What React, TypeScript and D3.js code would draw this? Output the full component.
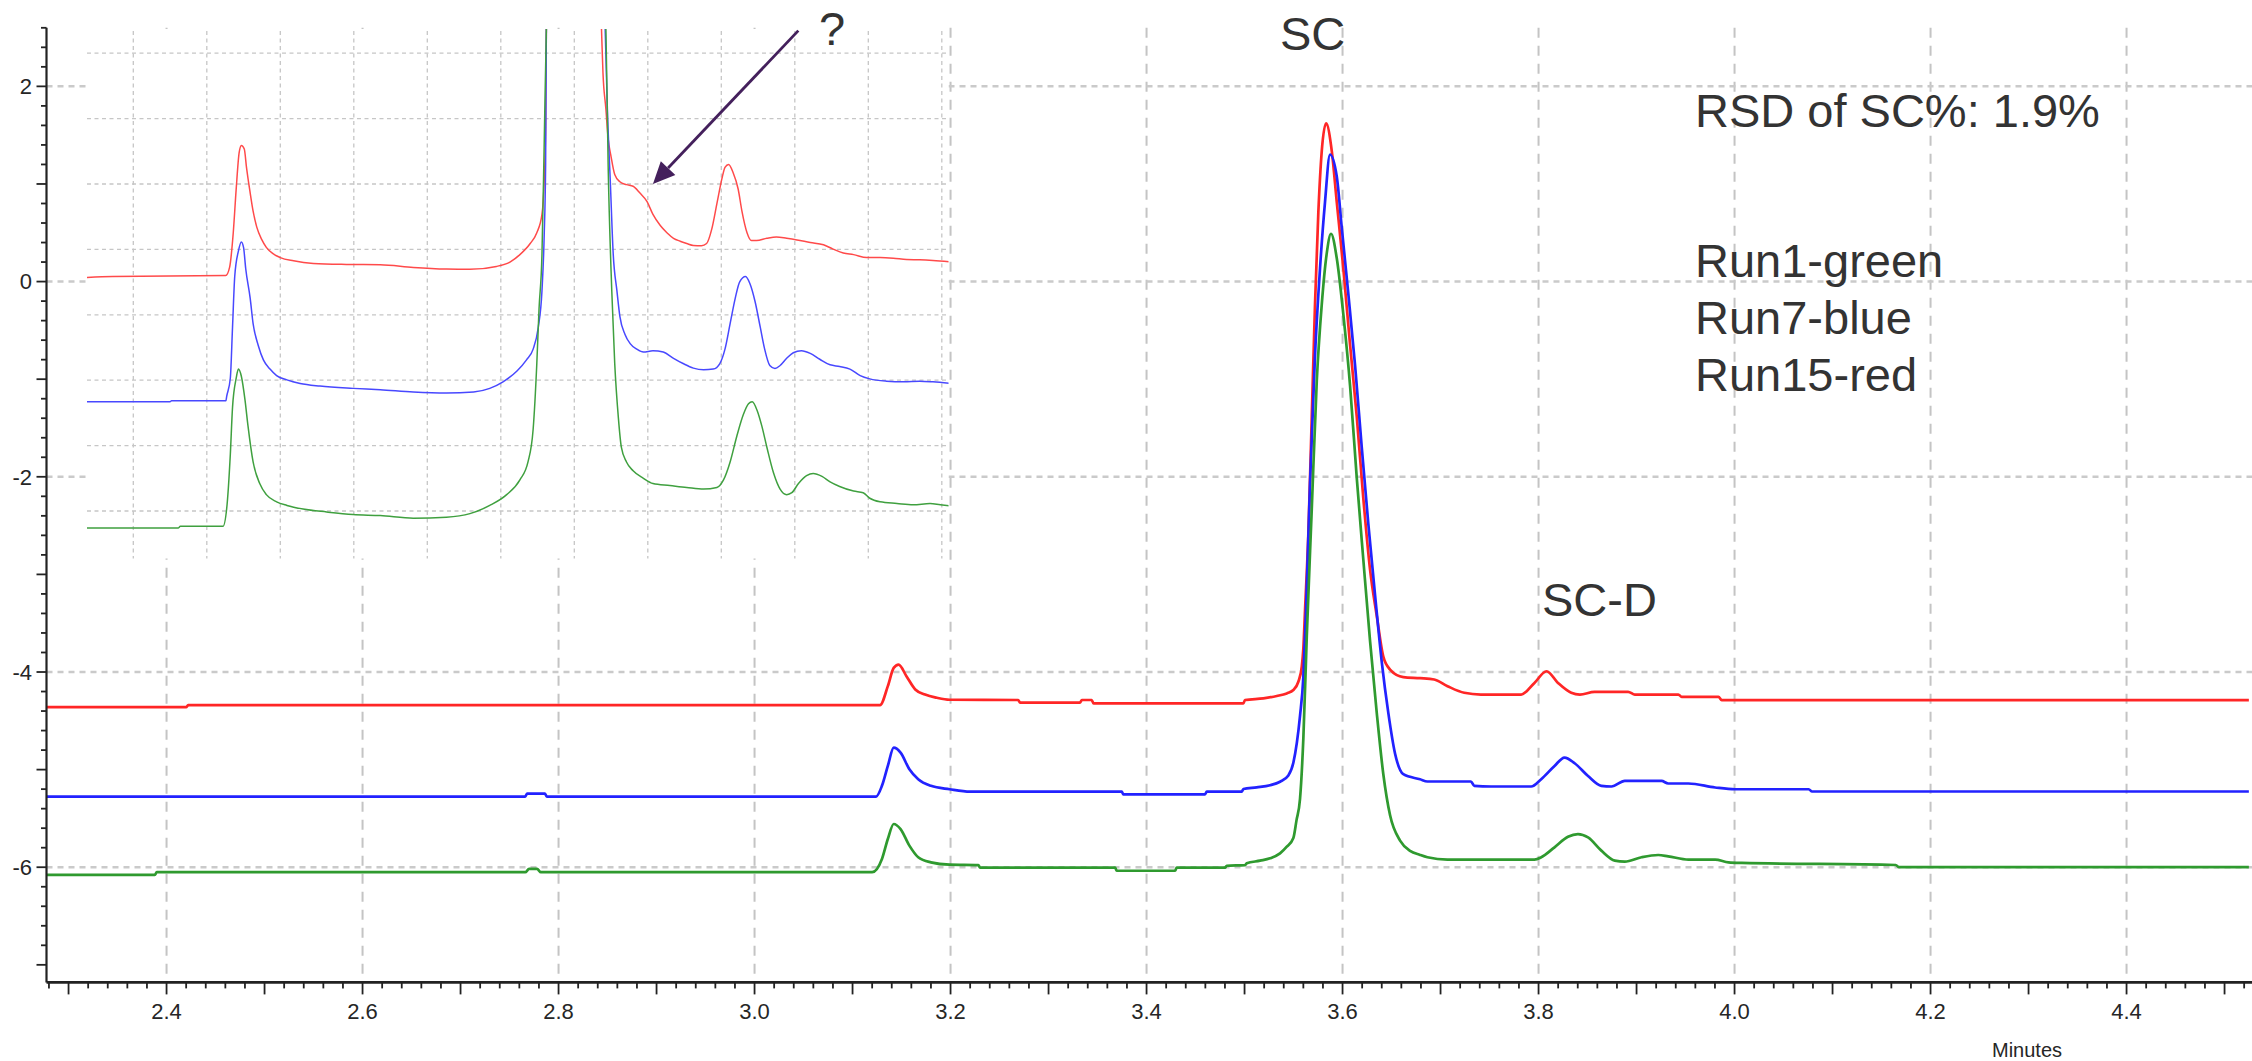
import React from "react";
import * as d3 from "d3";

// ---------- DATA (time in minutes, signal in mAU) ----------
const xTickLabels = [2.4, 2.6, 2.8, 3.0, 3.2, 3.4, 3.6, 3.8, 4.0, 4.2, 4.4];
const yTickLabels = [-6, -4, -2, 0, 2];
const insetGridX = [3.0, 3.1, 3.2, 3.3, 3.4, 3.5, 3.6, 3.7, 3.8, 3.9, 4.0, 4.1];
const insetGridY = [0, 0.2, 0.4, 0.6, 0.8, 1.0, 1.2, 1.4];

const run15Red: [number, number][] = [
  [2.2775,-4.36],[2.420,-4.36],[2.422,-4.34],[3.128,-4.34],[3.136,-4.145],[3.142,-3.958],[3.147,-3.924],[3.155,-4.043],[3.164,-4.179],[3.174,-4.231],[3.186,-4.264],[3.199,-4.284],[3.269,-4.287],[3.271,-4.314],[3.332,-4.314],[3.334,-4.287],[3.344,-4.287],[3.346,-4.321],[3.4988,-4.321],[3.5005,-4.287],[3.5192,-4.270],[3.5329,-4.246],[3.5431,-4.219],[3.5498,-4.184],[3.5549,-4.10],[3.5584,-3.946],[3.5600,-3.76],[3.5617,-3.372],[3.5651,-2.586],[3.5686,-1.383],[3.5719,-0.233],[3.5753,0.709],[3.5788,1.338],[3.5832,1.62],[3.5890,1.338],[3.5941,0.815],[3.6008,0.134],[3.6077,-0.652],[3.6145,-1.383],[3.6212,-2.221],[3.6281,-2.954],[3.6349,-3.424],[3.6416,-3.843],[3.6485,-3.975],[3.6620,-4.052],[3.6791,-4.063],[3.6935,-4.077],[3.7071,-4.145],[3.7242,-4.213],[3.7412,-4.231],[3.7822,-4.231],[3.7958,-4.112],[3.8082,-3.992],[3.8198,-4.112],[3.8334,-4.213],[3.8422,-4.231],[3.8572,-4.203],[3.8914,-4.203],[3.8983,-4.231],[3.9427,-4.231],[3.9460,-4.254],[3.9836,-4.254],[3.9869,-4.288],[4.5248,-4.288]
];
const run7Blue: [number, number][] = [
  [2.2775,-5.276],[2.766,-5.276],[2.768,-5.245],[2.786,-5.245],[2.788,-5.276],[3.124,-5.276],[3.130,-5.166],[3.136,-4.962],[3.142,-4.775],[3.149,-4.826],[3.158,-4.996],[3.167,-5.098],[3.180,-5.166],[3.199,-5.201],[3.2199,-5.226],[3.3747,-5.226],[3.3763,-5.253],[3.4597,-5.253],[3.4614,-5.226],[3.4971,-5.226],[3.4988,-5.199],[3.5124,-5.182],[3.5260,-5.160],[3.5362,-5.124],[3.5447,-5.06],[3.5498,-4.93],[3.5566,-4.45],[3.5600,-4.052],[3.5627,-3.372],[3.5668,-2.064],[3.5719,-0.756],[3.5770,0.134],[3.5821,0.815],[3.5872,1.30],[3.5941,1.076],[3.5992,0.552],[3.6059,-0.127],[3.6128,-0.861],[3.6196,-1.698],[3.6263,-2.483],[3.6332,-3.215],[3.6400,-3.896],[3.6467,-4.419],[3.6536,-4.837],[3.6620,-5.047],[3.6791,-5.099],[3.6866,-5.122],[3.7310,-5.122],[3.7344,-5.166],[3.7515,-5.173],[3.7924,-5.173],[3.8027,-5.098],[3.8163,-4.962],[3.8265,-4.877],[3.8368,-4.935],[3.8505,-5.065],[3.8641,-5.166],[3.8744,-5.173],[3.8880,-5.116],[3.9255,-5.116],[3.9323,-5.142],[3.9529,-5.142],[3.9802,-5.183],[4.0006,-5.201],[4.0757,-5.201],[4.0791,-5.224],[4.5248,-5.224]
];
const run1Green: [number, number][] = [
  [2.2775,-6.079],[2.388,-6.079],[2.390,-6.051],[2.766,-6.051],[2.770,-6.017],[2.778,-6.017],[2.782,-6.051],[3.120,-6.051],[3.130,-5.915],[3.136,-5.711],[3.142,-5.557],[3.149,-5.609],[3.158,-5.779],[3.167,-5.898],[3.180,-5.950],[3.199,-5.974],[3.2284,-5.978],[3.2301,-6.005],[3.3679,-6.005],[3.3696,-6.036],[3.4291,-6.036],[3.4308,-6.005],[3.4801,-6.005],[3.4818,-5.985],[3.5005,-5.978],[3.5022,-5.960],[3.5158,-5.933],[3.5260,-5.909],[3.5362,-5.858],[3.5431,-5.790],[3.5498,-5.70],[3.5530,-5.52],[3.5566,-5.30],[3.5600,-4.68],[3.5635,-3.634],[3.5686,-2.326],[3.5737,-1.017],[3.5788,-0.233],[3.5839,0.291],[3.5882,0.49],[3.5941,0.239],[3.6008,-0.337],[3.6077,-1.070],[3.6145,-2.011],[3.6212,-2.848],[3.6281,-3.686],[3.6349,-4.419],[3.6416,-5.047],[3.6485,-5.468],[3.6587,-5.727],[3.6689,-5.832],[3.6791,-5.874],[3.6866,-5.898],[3.7071,-5.922],[3.7958,-5.922],[3.8027,-5.898],[3.8163,-5.796],[3.8300,-5.688],[3.8402,-5.660],[3.8505,-5.694],[3.8641,-5.830],[3.8778,-5.932],[3.8880,-5.943],[3.9051,-5.898],[3.9221,-5.875],[3.9323,-5.888],[3.9529,-5.922],[3.9802,-5.922],[3.9938,-5.950],[4.0074,-5.956],[4.1645,-5.977],[4.1679,-6.000],[4.5248,-6.000]
];

// inset (magnified view)
const insetRed: [number, number][] = [
  [2.937,0.714],[2.972,0.717],[3.1257,0.720],[3.131,0.745],[3.136,0.851],[3.140,0.985],[3.144,1.096],[3.147,1.118],[3.151,1.107],[3.154,1.051],[3.159,0.973],[3.163,0.917],[3.168,0.868],[3.175,0.829],[3.181,0.806],[3.190,0.787],[3.200,0.775],[3.218,0.765],[3.245,0.757],[3.290,0.754],[3.336,0.753],[3.381,0.745],[3.426,0.740],[3.458,0.739],[3.494,0.748],[3.513,0.762],[3.526,0.784],[3.540,0.818],[3.549,0.851],[3.556,0.907],[3.559,1.007],[3.561,1.173],[3.562,1.474],[3.600,3.0],[3.637,1.474],[3.639,1.340],[3.643,1.229],[3.646,1.140],[3.650,1.084],[3.655,1.029],[3.662,1.007],[3.671,0.998],[3.680,0.993],[3.689,0.973],[3.699,0.946],[3.707,0.907],[3.717,0.873],[3.726,0.851],[3.735,0.834],[3.744,0.825],[3.753,0.818],[3.762,0.812],[3.773,0.811],[3.780,0.818],[3.787,0.862],[3.794,0.940],[3.801,1.018],[3.805,1.051],[3.810,1.060],[3.816,1.035],[3.823,0.984],[3.828,0.918],[3.835,0.851],[3.841,0.827],[3.848,0.827],[3.862,0.834],[3.875,0.838],[3.889,0.834],[3.903,0.829],[3.921,0.821],[3.939,0.814],[3.952,0.801],[3.966,0.789],[3.980,0.784],[3.998,0.775],[4.016,0.775],[4.034,0.773],[4.052,0.769],[4.070,0.768],[4.088,0.766],[4.113,0.762]
];
const insetBlue: [number, number][] = [
  [2.937,0.334],[3.050,0.334],[3.052,0.337],[3.126,0.337],[3.127,0.350],[3.132,0.406],[3.135,0.562],[3.138,0.717],[3.143,0.795],[3.147,0.823],[3.150,0.806],[3.153,0.740],[3.159,0.651],[3.163,0.573],[3.170,0.506],[3.177,0.462],[3.186,0.434],[3.195,0.414],[3.209,0.401],[3.227,0.390],[3.254,0.382],[3.299,0.375],[3.336,0.371],[3.381,0.364],[3.426,0.361],[3.463,0.364],[3.485,0.375],[3.503,0.395],[3.522,0.428],[3.535,0.462],[3.544,0.495],[3.551,0.562],[3.556,0.673],[3.559,0.840],[3.561,1.062],[3.562,1.474],[3.600,3.0],[3.642,1.474],[3.645,1.229],[3.649,1.007],[3.653,0.784],[3.658,0.673],[3.662,0.595],[3.669,0.540],[3.676,0.512],[3.685,0.495],[3.694,0.486],[3.707,0.490],[3.721,0.486],[3.735,0.467],[3.748,0.451],[3.762,0.437],[3.776,0.432],[3.789,0.434],[3.798,0.451],[3.805,0.495],[3.812,0.573],[3.819,0.651],[3.825,0.701],[3.833,0.717],[3.839,0.695],[3.846,0.640],[3.853,0.562],[3.859,0.495],[3.866,0.445],[3.873,0.436],[3.880,0.445],[3.889,0.467],[3.898,0.484],[3.909,0.490],[3.921,0.482],[3.934,0.464],[3.948,0.447],[3.961,0.442],[3.975,0.434],[3.989,0.414],[4.002,0.404],[4.025,0.397],[4.048,0.395],[4.070,0.397],[4.088,0.395],[4.113,0.390]
];
const insetGreen: [number, number][] = [
  [2.937,-0.052],[3.061,-0.052],[3.064,-0.047],[3.122,-0.047],[3.127,0.006],[3.132,0.173],[3.135,0.317],[3.140,0.406],[3.143,0.434],[3.147,0.412],[3.152,0.339],[3.156,0.261],[3.163,0.150],[3.172,0.084],[3.181,0.050],[3.195,0.028],[3.209,0.017],[3.231,0.006],[3.263,-0.003],[3.299,-0.011],[3.336,-0.014],[3.381,-0.022],[3.426,-0.019],[3.458,-0.008],[3.485,0.017],[3.508,0.050],[3.526,0.095],[3.537,0.150],[3.544,0.250],[3.549,0.451],[3.552,0.617],[3.556,0.784],[3.559,1.118],[3.562,1.474],[3.600,3.0],[3.643,1.474],[3.646,1.062],[3.651,0.673],[3.655,0.451],[3.660,0.284],[3.664,0.195],[3.671,0.150],[3.680,0.123],[3.694,0.100],[3.707,0.084],[3.730,0.078],[3.753,0.072],[3.776,0.067],[3.794,0.072],[3.803,0.095],[3.812,0.150],[3.821,0.228],[3.830,0.295],[3.837,0.328],[3.842,0.334],[3.849,0.306],[3.855,0.261],[3.862,0.195],[3.871,0.117],[3.880,0.067],[3.889,0.050],[3.896,0.056],[3.905,0.084],[3.916,0.108],[3.925,0.115],[3.937,0.106],[3.948,0.089],[3.961,0.075],[3.980,0.061],[3.993,0.056],[4.002,0.039],[4.016,0.028],[4.039,0.023],[4.061,0.019],[4.084,0.023],[4.098,0.019],[4.113,0.015]
];

const legendLines = ["Run1-green", "Run7-blue", "Run15-red"];

// ---------- LAYOUT ----------
const W = 2252;
const H = 1061;
const FONT = "'Liberation Sans', Arial, Helvetica, sans-serif";
const RED = "#ff2626";
const BLUE = "#2222ff";
const GREEN = "#2f9a2f";

export default function App() {
  const x = d3.scaleLinear().domain([2.2775, 4.5275]).range([46.5, 2251.5]);
  const y = d3.scaleLinear().domain([-7.18, 2.6]).range([982.4, 27.8]);
  const [xL] = x.range();
  const [yB, yT] = y.range();

  const xi = d3.scaleLinear().domain([3.0, 4.1]).range([133.3, 941.8]);
  const yi = d3.scaleLinear().domain([0, 1.4]).range([511, 53.2]);
  const inset = { x0: 87, x1: 948.5, y0: 29, y1: 558.5 };

  const line = d3
    .line<[number, number]>()
    .x((d) => x(d[0]))
    .y((d) => y(d[1]))
    .curve(d3.curveMonotoneX);
  const lineI = d3
    .line<[number, number]>()
    .x((d) => xi(d[0]))
    .y((d) => yi(d[1]))
    .curve(d3.curveMonotoneX);

  const xMinor = d3.range(0, 113).map((i) => Math.round((2.28 + i * 0.02) * 100) / 100).filter((t) => t <= 4.53);
  const yMinor = d3.range(-35, 14);

  // arrow (annotation anchored to inset coordinates)
  const tip = [xi(3.707), yi(1.0)];
  const tail = [xi(3.9048), yi(1.469)];
  const dx = tip[0] - tail[0];
  const dy = tip[1] - tail[1];
  const len = Math.hypot(dx, dy);
  const ux = dx / len, uy = dy / len;
  const headL = 22, headW = 10;
  const back = [tip[0] - ux * headL, tip[1] - uy * headL];
  const p1 = [back[0] - uy * headW, back[1] + ux * headW];
  const p2 = [back[0] + uy * headW, back[1] - ux * headW];

  return (
    <div style={{ margin: 0, padding: 0 }}>
      <style>{`html,body{margin:0;padding:0;background:#fff;} svg{display:block;}`}</style>
      <svg width={W} height={H} viewBox={`0 0 ${W} ${H}`} style={{ background: "#fff" }}>
        <defs>
          <clipPath id="mainClip">
            <rect x={xL} y={yT} width={W - xL} height={yB - yT} />
          </clipPath>
          <clipPath id="insetClip">
            <rect x={inset.x0} y={inset.y0} width={inset.x1 - inset.x0} height={inset.y1 - inset.y0} />
          </clipPath>
        </defs>

        {/* main grid */}
        <g>
          {xTickLabels.map((t) => (
            <line key={"vg" + t} x1={x(t)} x2={x(t)} y1={yT} y2={yB} stroke="#c4c4c4" strokeWidth={2} strokeDasharray="10,8" />
          ))}
          {yTickLabels.map((v) => (
            <line key={"hg" + v} x1={xL} x2={W} y1={y(v)} y2={y(v)} stroke="#cacaca" strokeWidth={2.5} strokeDasharray="6,5" />
          ))}
        </g>

        {/* main traces */}
        <g clipPath="url(#mainClip)" fill="none" strokeWidth={2.7} strokeLinejoin="round">
          <path d={line(run15Red) || ""} stroke={RED} />
          <path d={line(run7Blue) || ""} stroke={BLUE} />
          <path d={line(run1Green) || ""} stroke={GREEN} />
        </g>

        {/* inset */}
        <rect x={inset.x0} y={inset.y0} width={inset.x1 - inset.x0} height={inset.y1 - inset.y0} fill="#fff" />
        <g>
          {insetGridX.map((t) => (
            <line key={"ivg" + t} x1={xi(t)} x2={xi(t)} y1={inset.y0 + 2} y2={inset.y1} stroke="#c6c6c6" strokeWidth={1.3} strokeDasharray="4,3.5" />
          ))}
          {insetGridY.map((v) => (
            <line key={"ihg" + v} x1={inset.x0} x2={inset.x1} y1={yi(v)} y2={yi(v)} stroke="#c6c6c6" strokeWidth={1.3} strokeDasharray="4,3.5" />
          ))}
        </g>
        <g clipPath="url(#insetClip)" fill="none" strokeWidth={1.5} strokeLinejoin="round">
          <path d={lineI(insetRed) || ""} stroke="#ff4a4a" />
          <path d={lineI(insetBlue) || ""} stroke="#4848ff" />
          <path d={lineI(insetGreen) || ""} stroke="#3fa03f" />
        </g>

        {/* y axis */}
        <g>
          <line x1={xL} x2={xL} y1={yT} y2={yB} stroke="#222" strokeWidth={2.2} />
          {yMinor.map((i) => {
            const v = i * 0.2;
            const major = i % 5 === 0;
            return (
              <line key={"yt" + i} x1={xL - (major ? 10 : 5.5)} x2={xL} y1={y(v)} y2={y(v)} stroke="#222" strokeWidth={1.8} />
            );
          })}
          {yTickLabels.map((v) => (
            <text key={"yl" + v} x={32} y={y(v)} dy="0.36em" textAnchor="end" fontFamily={FONT} fontSize={22} fill="#262626">
              {v < 0 ? "-" + Math.abs(v) : String(v)}
            </text>
          ))}
        </g>

        {/* x axis */}
        <g>
          <line x1={xL} x2={W} y1={yB} y2={yB} stroke="#222" strokeWidth={2.6} />
          {xMinor.map((t) => {
            const major = Math.round(t * 100) % 10 === 0;
            return (
              <line key={"xt" + t} x1={x(t)} x2={x(t)} y1={yB} y2={yB + (major ? 12 : 6)} stroke="#222" strokeWidth={1.8} />
            );
          })}
          {xTickLabels.map((t) => (
            <text key={"xl" + t} x={x(t)} y={1019} textAnchor="middle" fontFamily={FONT} fontSize={22} fill="#262626">
              {t.toFixed(1)}
            </text>
          ))}
          <text x={2027} y={1057} textAnchor="middle" fontFamily={FONT} fontSize={20} fill="#262626">
            Minutes
          </text>
        </g>

        {/* annotations */}
        <g fontFamily={FONT} fill="#333">
          <text x={1280} y={49.5} fontSize={47}>SC</text>
          <text x={1542} y={616} fontSize={47}>SC-D</text>
          <text x={819} y={45} fontSize={47}>?</text>
          <text x={1695} y={127} fontSize={47}>RSD of SC%: 1.9%</text>
          {legendLines.map((s, i) => (
            <text key={s} x={1695} y={277 + i * 57} fontSize={47}>{s}</text>
          ))}
        </g>

        {/* arrow */}
        <line x1={tail[0]} y1={tail[1]} x2={back[0]} y2={back[1]} stroke="#44205c" strokeWidth={2.8} />
        <polygon points={`${tip[0]},${tip[1]} ${p1[0]},${p1[1]} ${p2[0]},${p2[1]}`} fill="#44205c" />
      </svg>
    </div>
  );
}
